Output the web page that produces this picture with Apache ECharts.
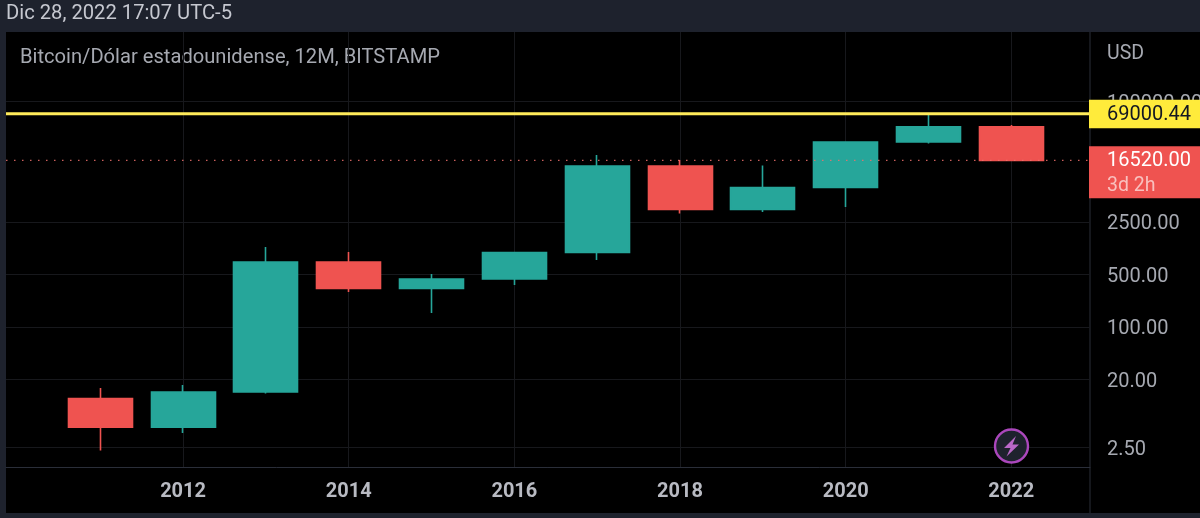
<!DOCTYPE html>
<html><head><meta charset="utf-8">
<style>html,body{margin:0;padding:0;background:#1e222d}#c{width:1200px;height:518px}</style>
<script src="https://cdn.jsdelivr.net/npm/echarts@6/dist/echarts.min.js"></script>
</head><body><div id="c"></div>
<script>
const headerText = 'Dic 28, 2022 17:07 UTC-5';
const titleText = 'Bitcoin/Dólar estadounidense, 12M, BITSTAMP';
const currency = 'USD';
const years  = [2011, 2012, 2013, 2014, 2015, 2016, 2017, 2018, 2019, 2020, 2021, 2022];
const opens  = [11.2, 4.66, 13.7, 735, 326, 436, 983, 13880, 3665, 7188, 28950, 46250];
const closes = [4.66, 13.7, 735, 326, 436, 983, 13880, 3665, 7188, 28950, 46250, 16520];
const lows   = [2.29, 3.9, 13.1, 293, 154, 363, 781, 3243, 3395, 3957, 27660, 16300];
const highs  = [15.5, 17, 1163, 998, 509, 998, 19450, 16680, 14100, 29000, 69000, 48750];
const xTicks = [2012, 2014, 2016, 2018, 2020, 2022];
const yTicks = [2.5, 20, 100, 500, 2500, 100000];
const athPrice = 69000.44;
const lastPrice = 16520.00;
const countdown = '3d 2h';

const UP = '#26a69a', DOWN = '#ef5350', FONT = 'Roboto';
const candles = years.map((y, i) => [y, opens[i], closes[i], lows[i], highs[i]]);

const chart = echarts.init(document.getElementById('c'), null, {renderer: 'canvas'});
chart.setOption({
  animation: false,
  backgroundColor: '#1e222d',
  textStyle: {fontFamily: FONT},
  graphic: [
    {type: 'rect', z: -10, shape: {x: 6, y: 32, width: 1194, height: 481}, style: {fill: '#000'}, silent: true},
    {type: 'line', z: -1, shape: {x1: 1090, y1: 32, x2: 1090, y2: 513}, style: {stroke: '#2a2e39', lineWidth: 1}},
    {type: 'text', x: 6, y: 14, style: {text: headerText, fill: '#c6c8d0', font: '20.2px Roboto', verticalAlign: 'middle'}},
    {type: 'text', x: 20, y: 58, style: {text: titleText, fill: '#a6a9b1', font: '20.15px Roboto', verticalAlign: 'middle'}},
    {type: 'text', x: 1107, y: 54, style: {text: currency, fill: '#a6a9b1', font: '19.5px Roboto', verticalAlign: 'middle'}},
    {type: 'circle', z: 20, shape: {cx: 1011.5, cy: 446, r: 16.5}, style: {fill: '#1e222d', stroke: '#ab47bc', lineWidth: 2.4}},
    {type: 'polygon', z: 21, shape: {points: [[1016,436],[1004,448],[1010.5,448],[1006.5,456.5],[1019,444.5],[1012.5,444.5]]}, style: {fill: '#ba68c8'}}
  ],
  grid: {left: 6, right: 110, top: 32, bottom: 51, outerBoundsMode: 'none'},
  xAxis: {
    type: 'value', min: 2009.862, max: 2022.95,
    axisLine: {show: true, lineStyle: {color: '#2a2e39', width: 1}},
    axisTick: {show: false, customValues: xTicks},
    splitLine: {show: true, lineStyle: {color: '#17181c', width: 1}},
    axisLabel: {customValues: xTicks, formatter: v => String(Math.round(v)), color: '#b8bac2',
      fontFamily: FONT, fontSize: 20, fontWeight: 700, margin: 15, showMinLabel: true, showMaxLabel: true}
  },
  yAxis: {
    type: 'log', logBase: 10, position: 'right', min: 1.38, max: 840700,
    axisLine: {show: false},
    axisTick: {show: false, customValues: yTicks},
    splitLine: {show: true, lineStyle: {color: '#17181c', width: 1}},
    axisLabel: {customValues: yTicks, verticalAlign: 'top', lineHeight: 4,
      formatter: v => Number(v).toFixed(2), color: '#a6a9b1', fontFamily: FONT, fontSize: 20, margin: 17}
  },
  series: [
    {
      type: 'candlestick', data: candles, barWidth: 64.5, z: 3,
      itemStyle: {color: UP, color0: DOWN, borderColor: UP, borderColor0: DOWN, borderWidth: 1.6},
    },
    {
      type: 'custom', z: 5, clip: false, silent: true,
      data: [[years[years.length - 1], lastPrice]],
      renderItem(params, api) {
        const r = params.coordSys, y = api.coord([2022, lastPrice])[1], x1 = r.x + r.width;
        return {type: 'group', children: [
          {type: 'line', shape: {x1: r.x, y1: y, x2: x1, y2: y}, z2: 1,
            style: {stroke: '#f0706c', lineWidth: 1.3, lineDash: [1.5, 6.5], opacity: .85}},
          {type: 'rect', shape: {x: x1 - 1, y: y - 14, width: 112, height: 52}, z2: 5, style: {fill: DOWN}},
          {type: 'text', x: x1 + 17, y: y + 1, z2: 6, style: {text: lastPrice.toFixed(2), fill: '#fff', font: '20px Roboto', verticalAlign: 'middle'}},
          {type: 'text', x: x1 + 17, y: y + 25.5, z2: 6, style: {text: countdown, fill: '#f9c0be', font: '19.5px Roboto', verticalAlign: 'middle'}}
        ]};
      }
    },
    {
      type: 'custom', z: 6, clip: false, silent: true,
      data: [[years[years.length - 1], athPrice]],
      renderItem(params, api) {
        const r = params.coordSys, y = api.coord([2022, athPrice])[1], x1 = r.x + r.width;
        return {type: 'group', children: [
          {type: 'line', shape: {x1: r.x, y1: y, x2: x1, y2: y}, z2: 1, style: {stroke: '#ffeb5a', lineWidth: 3}},
          {type: 'rect', shape: {x: x1 - 1, y: y - 14, width: 112, height: 28.5}, z2: 5, style: {fill: '#ffeb3b'}},
          {type: 'text', x: x1 + 17, y: y + 1, z2: 6, style: {text: athPrice.toFixed(2), fill: '#131722', font: '20px Roboto', verticalAlign: 'middle'}}
        ]};
      }
    }
  ]
});
</script></body></html>
